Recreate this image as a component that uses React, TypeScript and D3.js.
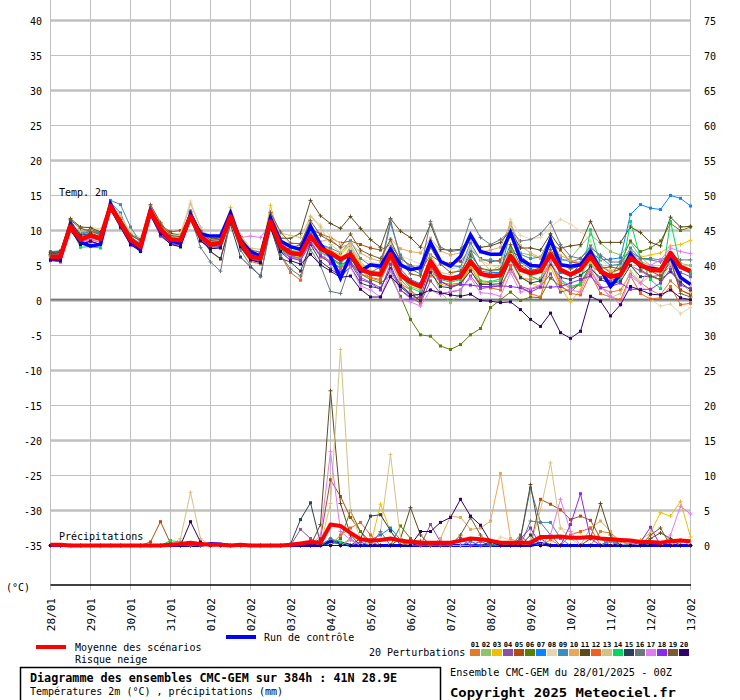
import React from 'react';
import * as d3 from 'd3';

const DATES = ["28/01","29/01","30/01","31/01","01/02","02/02","03/02","04/02","05/02","06/02","07/02","08/02","09/02","10/02","11/02","12/02","13/02"];
const LEFT_TICKS = [40,35,30,25,20,15,10,5,0,-5,-10,-15,-20,-25,-30,-35];
const RIGHT_TICKS = [75,70,65,60,55,50,45,40,35,30,25,20,15,10,5,0];
const GRID_T = [40,35,30,25,20,15,10,5,-5,-10,-15,-20,-25,-30];
const PERT_COLORS = ["#e07b2d","#8cc46c","#f0c000","#8c50a8","#b04c0c","#5a8000","#0a84ff","#e6d6b0","#3c8cbe","#e8a85a","#5c4a1c","#f06020","#d2c284","#00d860","#28405a","#6a7880","#e07cf0","#8a28f0","#7a5c30","#30006c"];
const PERT_LABELS = ["01","02","03","04","05","06","07","08","09","10","11","12","13","14","15","16","17","18","19","20"];
const CROSS_SERIES = [3,8,11,13,16,17,19];

// Temperature 2m (°C), 6-hourly, 65 steps
const T_MEAN = [6.2,6.3,10.6,8.7, 9.3,8.8,13.5,11.1, 8.7,7.7,12.8,10.2, 8.7,8.6,12.0,9.2, 8.0,8.2,12.0,8.3, 6.3,6.0,11.3,7.8, 6.8,6.6,9.2,7.4, 6.8,5.9,6.6,4.5, 3.9,3.7,6.6,3.7, 2.6,2.0,5.6,3.4, 3.1,3.4,5.6,3.8, 3.5,3.6,6.4,4.4, 3.9,4.2,6.6,4.4, 3.7,4.4,6.3,4.2, 3.4,3.7,6.1,5.1, 4.4,4.3,6.8,4.8, 4.2];
const T_CTRL = [6.0,6.1,10.8,8.3, 7.8,8.0,13.8,11.0, 8.5,7.3,12.8,10.0, 8.5,8.2,12.3,9.5, 9.2,9.2,12.5,8.5, 7.0,6.3,11.8,8.5, 7.7,7.3,10.6,8.0, 6.3,3.2,6.5,4.2, 5.1,4.9,7.3,5.1, 4.4,4.7,8.3,5.6, 4.9,6.3,9.4,7.0, 6.6,6.6,9.7,5.9, 5.0,4.9,8.7,5.1, 4.9,5.1,7.0,4.4, 2.0,3.7,6.6,4.9, 4.6,4.4,6.3,3.3, 2.3];
const T_P01 = [6.0,6.2,10.3,8.9, 9.5,9.0,13.2,11.0, 8.5,7.5,12.5,10.4, 9.0,8.8,12.4,9.5, 8.3,8.0,11.8,8.6, 6.5,5.8,11.0,7.4, 6.2,6.0,9.8,7.0, 6.0,5.0,7.8,4.4, 3.2,2.8,5.8,2.4, 1.5,0.3,3.5,2.8, 2.0,2.4,4.8,2.4, 2.6,2.8,5.7,3.2, 3.0,3.2,5.5,2.6, 1.8,2.2,4.2,1.8, 1.2,1.5,3.8,2.6, 1.5,0.8,2.8,1.5, 0.9];
const T_P02 = [6.5,6.7,11.0,9.5, 9.8,9.3,13.4,11.5, 9.0,8.2,12.9,10.6, 9.2,9.0,12.6,9.8, 8.6,8.8,12.3,9.0, 7.0,6.5,11.6,8.2, 7.2,7.0,9.8,8.0, 7.3,6.0,7.2,5.0, 4.2,3.8,6.5,3.5, 2.0,1.5,4.8,1.2, -0.3,1.0,6.8,4.5, 4.2,4.3,7.3,6.8, 6.5,6.0,7.8,5.6, 6.0,7.8,9.4,8.2, 7.0,6.5,8.3,6.2, 5.0,4.5,6.0,5.3, 5.0];
const T_P03 = [6.3,6.4,10.8,8.5, 9.0,8.5,13.6,11.2, 8.8,7.8,13.0,10.0, 8.6,8.4,12.5,9.0, 8.2,8.5,13.3,8.8, 6.8,6.2,13.6,8.2, 6.5,6.2,10.5,7.8, 7.2,6.5,8.0,5.2, 4.0,4.2,7.0,3.4, 2.2,1.8,5.3,2.3, 2.0,2.5,5.0,2.8, 2.2,2.0,7.8,3.5, 2.5,2.0,4.8,1.8, -0.2,1.5,5.3,4.0, 3.8,4.5,6.8,6.2, 6.5,6.8,7.8,8.0, 8.6];
const T_P04 = [5.8,5.6,10.2,8.2, 9.0,8.6,13.0,10.7, 8.2,7.2,12.4,9.8, 8.4,8.2,11.8,9.0, 7.8,7.9,11.5,8.0, 6.0,5.6,10.8,7.5, 6.4,6.0,8.4,6.5, 5.6,4.6,5.6,3.3, 2.6,1.8,4.4,1.5, 0.5,-0.4,2.8,1.0, 1.2,1.5,3.5,1.7, 1.9,2.1,4.5,2.0, 1.6,2.0,3.8,1.2, 1.6,2.5,4.5,3.3, 2.8,3.5,5.0,4.2, 3.4,3.6,5.0,4.0, 3.4];
const T_P05 = [6.4,6.5,10.4,9.8, 10.2,9.6,13.0,11.5, 9.5,8.8,12.2,10.8, 9.8,10.0,11.8,9.9, 7.0,5.9,11.3,7.5, 5.8,5.5,10.5,7.2, 7.5,8.0,10.2,9.5, 9.0,8.2,8.5,8.0, 7.5,7.2,8.0,6.0, 5.0,4.2,6.5,5.5, 5.3,5.6,7.2,6.0, 5.5,5.8,7.0,6.3, 5.2,5.0,8.2,7.2, 5.5,5.3,6.8,5.0, 4.0,4.5,5.8,4.8, 4.2,3.5,5.5,1.5, 0.8];
const T_P06 = [6.8,6.7,11.5,9.2, 9.2,8.8,13.6,11.0, 8.6,7.6,13.2,10.0, 8.8,8.5,12.3,9.4, 8.1,8.3,11.9,8.4, 6.0,5.8,11.0,7.6, 6.5,6.4,8.8,7.2, 6.2,5.2,5.5,3.8, 3.0,2.5,3.5,0.6, -2.7,-4.9,-5.1,-6.5, -7.0,-6.3,-4.9,-4.0, -1.0,0.1,1.2,0.0, 0.5,0.4,3.2,2.0, 1.2,2.5,5.0,4.0, 3.5,5.5,8.5,7.0, 7.5,8.5,11.0,10.0, 10.5];
const T_P07 = [6.6,6.8,10.9,9.4, 9.9,9.7,14.0,12.5, 9.2,8.0,13.3,10.8, 8.9,8.7,12.6,9.6, 8.4,8.6,12.5,8.8, 6.6,6.3,11.5,8.0, 7.0,6.7,9.5,7.6, 6.5,5.5,7.0,4.6, 3.5,3.8,8.0,4.5, 3.0,2.4,6.0,3.6, 3.3,3.8,7.2,4.2, 4.0,4.0,10.0,5.5, 4.5,4.3,9.4,4.0, 3.5,5.3,7.0,5.8, 5.9,6.1,12.3,13.7, 13.2,13.0,15.0,14.6, 13.5];
const T_P08 = [6.9,7.0,10.0,10.3, 10.5,10.2,13.8,12.2, 9.8,9.0,13.4,11.0, 9.5,9.6,14.2,10.4, 8.9,9.1,12.4,9.2, 7.3,7.0,11.5,9.5, 8.0,7.6,12.1,10.8, 9.2,8.1,7.5,6.0, 5.5,5.2,8.2,6.4, 5.8,5.2,8.0,5.4, 4.5,4.8,7.8,5.8, 5.0,4.6,11.6,9.3, 8.8,9.0,10.5,11.6, 10.9,9.9,8.5,6.0, 4.5,3.0,5.5,2.5, 0.2,-0.8,-0.5,-1.9, -1.0];
const T_P09 = [7.0,7.1,11.2,9.6, 10.0,9.5,14.3,13.7, 10.5,8.3,13.2,10.6, 9.0,8.8,12.8,9.8, 8.5,8.7,12.6,9.0, 6.8,6.5,12.0,8.5, 7.5,7.2,10.5,8.0, 7.5,6.8,8.5,6.0, 5.0,4.5,11.0,6.5, 4.5,3.8,8.5,5.5, 5.0,4.8,8.2,5.8, 5.8,5.5,11.0,6.6, 6.0,6.2,9.0,6.0, 5.5,6.0,7.8,6.2, 5.0,5.2,7.5,6.0, 6.0,5.8,6.5,4.8, 3.8];
const T_P10 = [6.0,6.0,10.5,9.0, 9.6,9.1,13.1,11.4, 9.1,7.9,12.6,10.3, 8.9,8.9,12.0,9.3, 8.2,8.4,12.2,8.5, 6.4,6.1,11.8,7.9, 6.9,6.9,10.9,8.4, 8.8,7.5,8.2,6.8, 6.0,5.6,8.8,7.4, 7.0,6.8,8.9,7.1, 6.5,6.8,8.6,6.9, 7.2,7.6,11.1,7.8, 6.8,6.1,8.3,6.4, 5.8,5.4,7.5,5.0, 4.2,4.8,7.0,5.6, 5.0,4.0,5.5,3.0, 2.2];
const T_P11 = [6.6,6.9,11.7,10.5, 10.4,9.8,13.3,11.8, 9.3,8.6,12.9,10.9, 9.6,9.3,12.5,10.0, 8.8,8.9,12.3,9.1, 6.9,6.6,11.9,8.9, 8.9,9.6,14.3,12.1, 11.0,10.3,12.0,10.3, 8.7,7.6,11.7,9.9, 9.0,7.6,10.9,7.3, 7.2,7.3,9.0,7.6, 7.8,8.3,10.0,7.5, 7.5,7.2,9.5,7.5, 7.8,8.0,11.3,8.3, 8.3,8.3,10.5,9.7, 8.3,7.8,11.9,10.5, 10.6];
const T_P12 = [6.1,6.0,10.1,8.0, 8.7,8.3,13.5,11.9, 8.0,7.2,12.6,9.6, 8.2,7.9,12.1,8.6, 7.4,7.6,12.3,7.6, 5.6,5.2,10.5,6.5, 4.0,2.9,8.5,6.2, 5.5,4.6,6.2,3.8, 3.3,3.0,6.3,3.0, 1.5,-0.5,4.5,2.6, 2.3,2.5,4.3,2.0, 1.8,1.5,5.0,2.0, 1.0,0.5,5.5,2.2, 1.0,0.8,3.8,1.0, 0.5,0.1,3.5,1.0, 0.2,0.4,2.0,-0.6, -0.4];
const T_P13 = [6.4,6.6,10.9,9.9, 10.0,9.2,13.6,12.0, 9.6,8.4,13.6,11.2, 9.4,9.3,13.8,10.5, 8.7,8.5,12.1,9.4, 7.5,7.3,12.5,9.6, 9.3,9.0,12.0,10.5, 8.0,6.9,8.0,5.5, 4.3,4.0,6.3,2.4, 1.0,0.8,6.5,4.0, 3.7,4.5,7.5,5.8, 4.2,5.0,10.8,6.0, 3.5,3.0,6.8,4.6, 3.8,3.3,6.0,2.0, 0.4,1.0,4.3,2.5, 3.5,2.8,5.2,2.5, 1.2];
const T_P14 = [6.2,6.3,10.4,7.6, 7.7,7.5,13.2,10.3, 8.1,7.2,12.0,10.4, 8.2,7.6,11.7,8.8, 7.7,7.8,11.5,7.8, 6.0,5.7,11.1,7.3, 6.3,6.0,9.1,6.9, 6.2,5.0,6.0,4.3, 3.8,3.4,6.9,3.5, 1.8,1.2,5.9,3.0, 2.6,3.0,6.2,2.8, 2.7,3.1,7.5,4.5, 3.5,2.8,9.0,3.0, 2.0,2.4,10.1,5.0, 2.0,3.0,11.3,6.0, 3.0,1.7,11.3,4.8, 4.1];
const T_P15 = [6.8,7.0,11.3,9.3, 9.6,9.1,13.4,11.3, 8.9,7.9,12.7,10.1, 8.8,8.6,12.2,9.0, 7.0,6.0,10.9,6.2, 4.8,3.5,10.5,6.0, 5.5,4.2,8.0,5.6, 4.5,3.5,4.8,2.5, 2.0,1.7,4.6,2.2, 0.9,0.0,4.0,2.0, 1.8,2.4,4.2,2.3, 2.3,2.4,6.0,3.3, 2.5,2.8,5.2,3.3, 3.0,3.6,4.7,3.0, 2.4,2.7,5.0,3.4, 3.5,3.0,4.1,2.6, 1.5];
const T_P16 = [6.5,6.6,10.6,8.7, 9.3,8.8,13.3,11.0, 8.8,7.8,12.8,10.4, 8.6,8.5,11.9,7.6, 5.5,4.2,11.5,7.2, 5.0,3.4,10.5,6.5, 4.5,3.5,7.3,5.0, 1.3,1.0,5.2,4.0, 4.0,4.8,11.5,6.0, 5.0,4.4,11.3,7.6, 7.0,7.2,11.6,9.0, 8.0,8.7,10.0,8.5, 8.7,9.5,11.2,8.0, 6.3,6.0,7.5,6.5, 5.5,5.5,7.0,6.0, 5.8,5.5,6.5,5.8, 5.8];
const T_P17 = [5.9,5.8,10.0,8.2, 8.8,8.3,13.1,10.6, 8.2,7.0,12.3,9.3, 8.4,8.3,11.8,9.4, 8.5,8.8,11.4,9.0, 9.2,9.0,11.0,8.5, 6.2,5.8,8.6,7.3, 5.0,3.3,4.8,2.1, 1.5,0.5,4.2,0.2, -0.2,-0.8,1.5,0.8, 1.3,1.5,3.2,1.1, 1.0,0.6,4.0,1.2, 1.7,2.2,5.6,3.0, 1.5,1.2,4.5,2.0, 0.6,-0.6,3.5,2.4, 5.0,5.8,7.5,7.0, 6.7];
const T_P18 = [5.7,5.5,10.4,8.1, 8.4,8.0,13.0,10.5, 7.9,7.2,12.2,9.2, 8.1,8.0,11.6,8.7, 7.6,7.7,11.7,7.9, 5.9,5.5,11.0,7.1, 6.1,5.7,8.2,6.4, 5.3,4.1,5.3,3.0, 2.5,1.5,5.2,1.5, 0.3,0.5,4.9,2.7, 2.0,2.3,2.2,2.0, 2.0,2.1,2.0,1.8, 1.2,1.9,1.9,2.0, 2.5,3.0,3.5,1.8, 2.0,2.5,1.6,1.6, 1.6,2.5,4.5,2.2, 1.7];
const T_P19 = [6.9,7.0,11.5,10.3, 9.9,9.4,13.9,11.6, 9.4,8.5,13.7,11.1, 9.3,9.1,12.7,9.9, 8.6,8.7,12.2,9.1, 7.2,6.9,12.6,9.8, 8.2,8.1,11.4,9.3, 8.5,7.6,9.5,7.2, 6.5,6.0,8.7,5.5, 3.8,3.5,7.6,5.2, 4.0,4.2,6.5,4.6, 4.3,4.5,8.0,5.0, 4.2,4.7,7.3,5.2, 4.5,5.0,7.0,4.6, 4.8,4.5,6.8,4.4, 3.5,3.0,6.0,1.0, 0.5];
const T_P20 = [5.8,5.7,10.0,8.0, 8.5,8.0,12.9,10.5, 8.0,7.0,12.1,9.5, 8.0,7.7,11.5,8.5, 7.4,7.5,11.4,7.7, 5.8,5.4,10.3,7.0, 5.7,5.2,6.6,5.1, 4.2,3.3,3.5,1.6, 0.5,0.5,3.4,2.0, 0.7,0.9,1.5,1.1, 0.8,0.6,0.9,0.0, -0.1,-0.3,-0.2,-1.3, -2.7,-3.7,-1.8,-4.6, -5.4,-4.4,0.6,-0.1, -2.2,-0.6,2.0,1.5, 0.9,0.8,1.5,0.4, 0.1];
const T_PERTS = [T_P01,T_P02,T_P03,T_P04,T_P05,T_P06,T_P07,T_P08,T_P09,T_P10,T_P11,T_P12,T_P13,T_P14,T_P15,T_P16,T_P17,T_P18,T_P19,T_P20];

// Precipitation (mm), 6-hourly, 65 steps
const R_MEAN = [0.1,0.1,0,0,0,0,0,0,0,0,0,0,0.1,0.2,0.4,0.2, 0.1,0.1,0,0.1,0,0,0,0,0.1,0.3,0.5,0.4,3.0,2.8,1.8,0.9, 0.7,0.8,1.0,0.7,0.5,0.4,0.4,0.4,0.4,0.7,1.0,0.9,0.7,0.4,0.4,0.4, 0.4,1.2,1.2,1.3,1.1,1.1,1.2,1.0,0.9,0.8,0.7,0.5,0.5,0.4,0.6,0.7, 0.6];
const R_CTRL = [0,0,0,0,0,0,0,0,0,0,0,0,0,0,0,0, 0.3,0.2,0,0,0,0,0,0,0,0,0,0,0.6,0.4,0,0, 0,0,0,0,0,0,0,0,0,0,0,0,0,0,0,0, 0,0.3,0,0,0,0,0,0,0,0,0,0,0,0,0,0, 0];
const R_P01 = [0,0,0,0,0,0,0,0,0,0,0,0,0,0,0,0, 0,0,0,0,0,0,0,0,0,0,0,0,0,0,1.0,0, 0,0,0,0,0.5,0,0,0,0,0,0,0,0,0,0,0, 0,0,0.8,0,0,0,0,2.0,1.8,0.6,0,0,0,0,0,0.8, 0];
const R_P02 = [0,0,0,0,0,0,0,0,0,0,0,0,0.5,0,0,0, 0,0,0,0,0,0,0,0,0,0,0,0,0,0,0.8,0, 0,0,0,0,0,0,0,0,0,0,0,0,0.6,0,0,0, 0,0,0,0,0,0,0,0,0,0.8,0,0,0,0,0,0, 0];
const R_P03 = [0,0,0,0,0,0,0,0,0,0,0,0,0,0,0,0, 0,0,0,0,0,0,0,0,0,0,0,0,0,0,0,0, 0,5.9,2.0,0.5,0,0,0,0,0,0,0,0,0,0,0,0, 0,0,0,0,0,0,0,0,0,0,0,0.8,1.8,4.7,4.2,6.3, 1.2];
const R_P04 = [0,0,0,0,0,0,0,0,0,0,0,0,0,0,0,0, 0,0,0,0,0,0,0,0,0,2.3,1.0,0,0,0,0,0.5, 0,0,0,0,0,0,3.0,0.5,0,0,0,0.6,0,0,0,0, 0,0,0,0,0,0,0,0,0,0,0,0,0,0,0,0, 0];
const R_P05 = [0,0,0,0,0,0,0,0,0,0,0.5,3.4,0.3,0,0,0, 0,0,0,0,0,0,0,0,0,0,0,1.0,9.4,7.0,4.0,2.0, 0.5,0,0,0,0,0,0,0,0,0,0,0,0,0,0,0, 0,6.6,5.9,5.1,3.7,4.2,3.6,1.0,0,0,0,0,0,0,0,0, 0];
const R_P06 = [0,0,0,0,0,0,0,0,0,0,0,0,0,0,0,0, 0,0,0,0,0,0,0,0,0,0,0,0,0,1.0,4.9,2.0, 0,0,0,2.8,1.0,0,0,0,0,0,0,0,0,0,0,1.5, 0,0,0,0,0,0,0,0,0,0,0,0.5,0,0,0,0, 0];
const R_P07 = [0,0,0,0,0,0,0,0,0,0,0,0,0,0,0,0, 0,0,0,0,0,0,0,0,0,0,0,0,0,0,0,0, 0.8,1.5,2.5,0.8,0,0,0,0,0,0,0.6,0,0,0,0,0, 0.5,0,0,0,0,0,0,0,1.0,0,0,0,0,0,0,0, 0];
const R_P08 = [0,0,0,0,0,0,0,0,0,0,0,0,0,0,0,0, 0,0,0,0,0,0,0,0,0,0,0,0,0,0,0,0, 0,1.0,0,0,0,0.8,0,0,0,1.5,0,0,0,1.2,0.8,0, 0,0,0,2.5,2.0,1.8,0,0,0,0,0,0,0,0,0,0, 0];
const R_P09 = [0,0,0,0,0,0,0,0,0,0,0,0,0,0,0,0, 0,0,0,0,0,0,0,0,0,0,0.5,0,0,0,0,0, 0,0,0,0,0,0,0,0,0,0,0,0,0,0,0,1.0, 8.2,3.3,3.3,1.0,0,0,0,0,0.6,0,0,0,0,0,0,0, 0];
const R_P10 = [0,0,0,0,0,0,0,0,0,0,0,0,0,0,0,0, 0,0,0,0,0,0,0,0,0,0,0,0,0,0,0,0, 0,0,0,0,0,0,0,1.0,4.2,4.0,2.3,2.5,3.5,10.3,1.0,0.3, 0,0,0,0,0,0,2.5,3.5,2.0,0,0,0,0,0,0.8,0, 0];
const R_P11 = [0,0,0,0,0,0,0,0,0,0,0,0,0,0,0,0, 0,0,0,0,0,0,0,0,0,0,0,3.0,22.1,6.0,1.5,0, 0,0,0,1.0,5.4,1.5,0,0,0,0,0,0,0,0,0,1.0, 8.7,1.0,0,0,0,0,1.0,6.0,1.5,0,0,0,1.0,1.8,1.0,0, 0];
const R_P12 = [0,0,0,0,0,0,0,0,0,0,0,0,0,0,0,0, 0,0,0,0,0,0,0,0,0,0,0,0,0,1.5,2.5,3.3, 1.5,0,0,0,0,0,0,0,0,0,0,0,0,0,0,0.6, 0,0,0,0,1.5,2.0,2.5,0,0,0.8,0,0,0,0,0,0, 0];
const R_P13 = [0,0,0,0,0,0,0,0,0,0,0,0,0,1.0,7.6,1.0, 0,0,0,0,0,0,0,0,0,0,0,0,6.0,28.0,4.9,1.0, 0,2.0,13.0,1.0,0,0,0,0,0,0,0,0,0,0,0,0, 0,5.1,11.8,2.5,1.0,0,0,0,0,0,0,0,0,0,0,0, 0];
const R_P14 = [0,0,0,0,0,0,0,0,0,0,0,0,0.7,0.5,0,0, 0,0,0,0,0,0,0,0,0,0,0,0,1.0,0.5,0,0, 0,0,0,0,0,0,0,0,0,0,0,0,0,0.3,0,0, 0,0,0,0,0,0,0,0,0,0,0.3,0,0,0,0,0, 0];
const R_P15 = [0,0,0,0,0,0,0,0,0,0,0,0,0,0,0,0, 0,0,0,0,0,0,0,0,0.2,3.7,6.1,0.3,0,0,0,1.0, 4.2,4.4,2.1,0,0,0,0,0,0,0,0,0,0.5,0,0,0, 1.5,0,0,0,0,0,0,0,0,0,0,0,0,0,0,0, 0];
const R_P16 = [0,0,0,0,0,0,0,0,0,0,0,0,0,0,0,0, 0,0,0,0,0,0,0,0,0,0,0,0,1.0,0,0,0, 0,2.0,0,0,0,0,0,0,0,0,0,0,0,0,0,0, 3.5,3.3,1.5,0,0,0,0,0,0.8,0,0,0,0,0,0,0, 0];
const R_P17 = [0,0,0,0,0,0,0,0,0,0,0,0,0,0,0,0, 0,0,0,0,0,0,0,0,0,0,0,1.5,13.4,2.0,0.8,0, 0,0,0,0,0,0,0,0,0,0,0,0,0,0,0,0, 0,0,1.5,6.6,2.0,0,0,0,0,0,0.5,0,0,0,1.5,5.6, 4.5];
const R_P18 = [0,0,0,0,0,0,0,0,0,0,0,0,0,0,0,0, 0,0,0,0,0,0,0,0,0,0,0,0,0,0,0,0, 0,0,0,0,0,0,0,0,0,1.0,0,0,0,0,0,1.0, 2.5,0,0,0,3.0,7.4,1.0,0,0,0,0,0.5,2.6,0,0,0, 0];
const R_P19 = [0,0,0,0,0,0,0,0,0,0,0,0,0,0,0,0, 0,0,0,0,0,0,0,0,0,0,0,0,0,0,0,0, 0,0,0,0,0.8,0.6,0,0,0,1.5,4.0,1.5,0,0,0,0, 0,0,0,0,0,0,0,0,0,0,0,0,1.5,2.5,0,0, 0];
const R_P20 = [0,0,0,0,0,0,0,0,0,0,0,0,0,0,3.4,0.5, 0,0,0,0,0,0,0,0,0,0,0,0,0,0,0,0, 0,0,0,0,0,2.0,2.0,3.3,4.0,6.6,4.2,2.9,0.5,0,0,0, 0,0,0,0,0,0,0,0,0,0,0,0,0,0,0,0, 0];
const R_PERTS = [R_P01,R_P02,R_P03,R_P04,R_P05,R_P06,R_P07,R_P08,R_P09,R_P10,R_P11,R_P12,R_P13,R_P14,R_P15,R_P16,R_P17,R_P18,R_P19,R_P20];

const MONO = '"DejaVu Sans Mono", monospace';

function Markers({ data, y, x, color, cross }: { data: number[]; y: (v: number) => number; x: (i: number) => number; color: string; cross: boolean }) {
  return (
    <g>
      {data.map((v, i) =>
        cross ? (
          <path key={i} d={`M${x(i) - 2},${y(v)}h4M${x(i)},${y(v) - 2}v4`} stroke={color} strokeWidth={1} fill="none" />
        ) : (
          <rect key={i} x={x(i) - 1.5} y={y(v) - 1.5} width={3} height={3} fill={color} />
        )
      )}
    </g>
  );
}

export default function App() {
  const x = d3.scaleLinear().domain([0, 64]).range([50.5, 690.5]);
  const yT = d3.scaleLinear().domain([-35, 40]).range([545.5, 20.5]);
  const yR = d3.scaleLinear().domain([0, 75]).range([545.5, 20.5]);
  const lineT = d3.line<number>().x((_, i) => x(i)).y((d) => yT(d));
  const lineR = d3.line<number>().x((_, i) => x(i)).y((d) => yR(d));
  const xL = 50.5, xR = 690.5;

  return (
    <svg width={740} height={700} style={{ position: 'absolute', left: 0, top: 0, background: '#fff' }} fontFamily={MONO}>
      <rect x={0} y={0} width={740} height={700} fill="#fff" />
      {/* vertical grid */}
      {DATES.map((d, k) => (
        <line key={d} x1={x(k * 4)} x2={x(k * 4)} y1={0} y2={590} stroke="#c0c0c0" strokeWidth={1} />
      ))}
      {/* horizontal grid */}
      {GRID_T.map((t) => (
        <line key={t} x1={xL} x2={xR} y1={yT(t)} y2={yT(t)} stroke="#c0c0c0" strokeWidth={t % 10 === 0 ? 2.5 : 1} />
      ))}
      {/* zero line */}
      <line x1={xL} x2={xR} y1={yT(0) - 0.5} y2={yT(0) - 0.5} stroke="#9a9a9a" strokeWidth={3} />
      <line x1={xL} x2={xR} y1={yT(0) - 1} y2={yT(0) - 1} stroke="#777" strokeWidth={1} />
      {/* bottom axis */}
      <line x1={xL} x2={xR + 0.5} y1={585} y2={585} stroke="#000" strokeWidth={1.5} />

      {/* ticks */}
      {LEFT_TICKS.map((t) => (
        <text key={t} x={42} y={yT(t) + 4} textAnchor="end" fontSize={10} fill="#000">{t}</text>
      ))}
      {RIGHT_TICKS.map((t) => (
        <text key={t} x={704} y={yR(t) + 4} textAnchor="start" fontSize={10} fill="#000">{t}</text>
      ))}
      {DATES.map((d, k) => (
        <text key={d} transform={`translate(${x(k * 4) + 4},598) rotate(-90)`} textAnchor="end" fontSize={11} fill="#000">{d}</text>
      ))}
      <text x={59} y={196} fontSize={10} fill="#000">Temp. 2m</text>
      <text x={59} y={540} fontSize={10} fill="#000">Précipitations</text>
      <text x={6} y={591} fontSize={10} fill="#000">(°C)</text>

      {/* precipitation: control under perturbations */}
      <path d={lineR(R_CTRL) || ''} fill="none" stroke="#0000ff" strokeWidth={3} />
      {R_PERTS.map((s, k) => (
        <g key={'r' + k}>
          <path d={lineR(s) || ''} fill="none" stroke={PERT_COLORS[k]} strokeWidth={1} />
          <Markers data={s} y={yR} x={x} color={PERT_COLORS[k]} cross={CROSS_SERIES.includes(k + 1)} />
        </g>
      ))}
      {/* temperature perturbations */}
      {T_PERTS.map((s, k) => (
        <g key={'t' + k}>
          <path d={lineT(s) || ''} fill="none" stroke={PERT_COLORS[k]} strokeWidth={1} />
          <Markers data={s} y={yT} x={x} color={PERT_COLORS[k]} cross={CROSS_SERIES.includes(k + 1)} />
        </g>
      ))}
      {/* control temperature */}
      <path d={lineT(T_CTRL) || ''} fill="none" stroke="#0000ff" strokeWidth={3.5} />
      {/* mean */}
      <path d={lineR(R_MEAN) || ''} fill="none" stroke="#ff0000" strokeWidth={4} strokeLinejoin="round" />
      <path d={lineT(T_MEAN) || ''} fill="none" stroke="#ff0000" strokeWidth={4.5} strokeLinejoin="round" />

      {/* legend */}
      <line x1={226} x2={256} y1={637} y2={637} stroke="#0000ff" strokeWidth={4} />
      <text x={264} y={641} fontSize={10} fill="#000">Run de contrôle</text>
      <line x1={36} x2={66} y1={647} y2={647} stroke="#ff0000" strokeWidth={4} />
      <text x={75} y={651} fontSize={10} fill="#000">Moyenne des scénarios</text>
      <text x={75} y={663} fontSize={10} fill="#000">Risque neige</text>
      <text x={369} y={656} fontSize={10} fill="#000">20 Perturbations</text>
      {PERT_LABELS.map((lab, k) => (
        <g key={lab}>
          <rect x={470 + k * 11} y={649} width={10} height={7} fill={PERT_COLORS[k]} />
          <text x={475 + k * 11} y={646.5} fontSize={7} fontWeight="bold" textAnchor="middle" fill="#000">{lab}</text>
        </g>
      ))}

      {/* info box */}
      <rect x={20.5} y={667.5} width={420} height={40} fill="none" stroke="#000" strokeWidth={1.5} />
      <text x={30} y={682} fontSize={12} fontWeight="bold" fill="#000" textLength={367} lengthAdjust="spacingAndGlyphs">Diagramme des ensembles CMC-GEM sur 384h : 41N 28.9E</text>
      <text x={30} y={695} fontSize={10} fill="#000" textLength={253} lengthAdjust="spacingAndGlyphs">Températures 2m (°C) , précipitations (mm)</text>
      <text x={450} y={676} fontSize={10} fill="#000" textLength={222} lengthAdjust="spacingAndGlyphs">Ensemble CMC-GEM du 28/01/2025 - 00Z</text>
      <text x={450} y={697} fontSize={13} fontWeight="bold" fill="#000" textLength={226} lengthAdjust="spacingAndGlyphs">Copyright 2025 Meteociel.fr</text>
    </svg>
  );
}
